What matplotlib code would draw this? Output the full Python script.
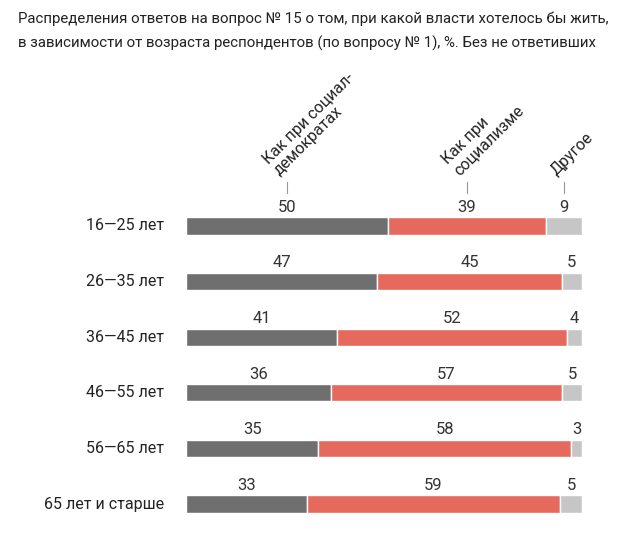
import numpy as np
import matplotlib.pyplot as plt

plt.rcParams['font.family'] = ['Roboto', 'DejaVu Sans']

title = ("Распределения ответов на вопрос № 15 о том, при какой власти хотелось бы жить,\n"
         "в зависимости от возраста респондентов (по вопросу № 1), %. Без не ответивших")
ages = ["16—25 лет", "26—35 лет", "36—45 лет", "46—55 лет", "56—65 лет", "65 лет и старше"]
# printed labels
social_dem = [50, 47, 41, 36, 35, 33]
socialism = [39, 45, 52, 57, 58, 59]
other = [9, 5, 4, 5, 3, 5]
# bar lengths as drawn in the original (share of row, %)
bar_dem = [50.9, 48.3, 38.2, 36.6, 33.4, 30.5]
bar_soc = [39.9, 46.6, 58.0, 58.4, 63.8, 64.0]
bar_other = [9.2, 5.1, 3.8, 5.0, 2.8, 5.5]
headers = ["Как при социал-\nдемократах", "Как при\nсоциализме", "Другое"]
colors = ["#6f6f6f", "#e5695c", "#c6c6c6"]

fig = plt.figure(figsize=(6.4, 5.45), dpi=100)
fig.text(18 / 640, 1 - 12 / 545, title, ha='left', va='top', fontsize=10.85,
         linespacing=1.75, color='#222222')

ax = fig.add_axes([186 / 640, 13.2 / 545, 396 / 640, 333.6 / 545])
labels = np.array([social_dem, socialism, other])
bars = np.array([bar_dem, bar_soc, bar_other], dtype=float)
bars = bars / bars.sum(axis=0)
y = np.arange(len(ages))
left = np.zeros(len(ages))
for k in range(3):
    ax.barh(y, bars[k], left=left, height=0.31, color=colors[k],
            edgecolor='white', linewidth=1)
    for i in range(len(ages)):
        ax.text(left[i] + bars[k][i] / 2, y[i] - 0.2, str(labels[k][i]),
                ha='center', va='bottom', fontsize=12, color='#333333')
    # header over the first row
    cx = left[0] + bars[k][0] / 2
    ax.plot([cx, cx], [-0.6, -0.8], color='#999999', lw=0.8, clip_on=False)
    ax.text(cx - 0.012, -0.86, headers[k], rotation=45, rotation_mode='anchor',
            ha='left', va='bottom', fontsize=11.5, color='#222222', linespacing=1.1)
    left += bars[k]

for i, lab in enumerate(ages):
    ax.text(-0.055, y[i], lab, ha='right', va='center', fontsize=11.5,
            color='#222222')

ax.set_xlim(0, 1)
ax.set_ylim(len(ages) - 0.5, -0.5)
ax.axis('off')

fig.savefig("out.png", dpi=100)
